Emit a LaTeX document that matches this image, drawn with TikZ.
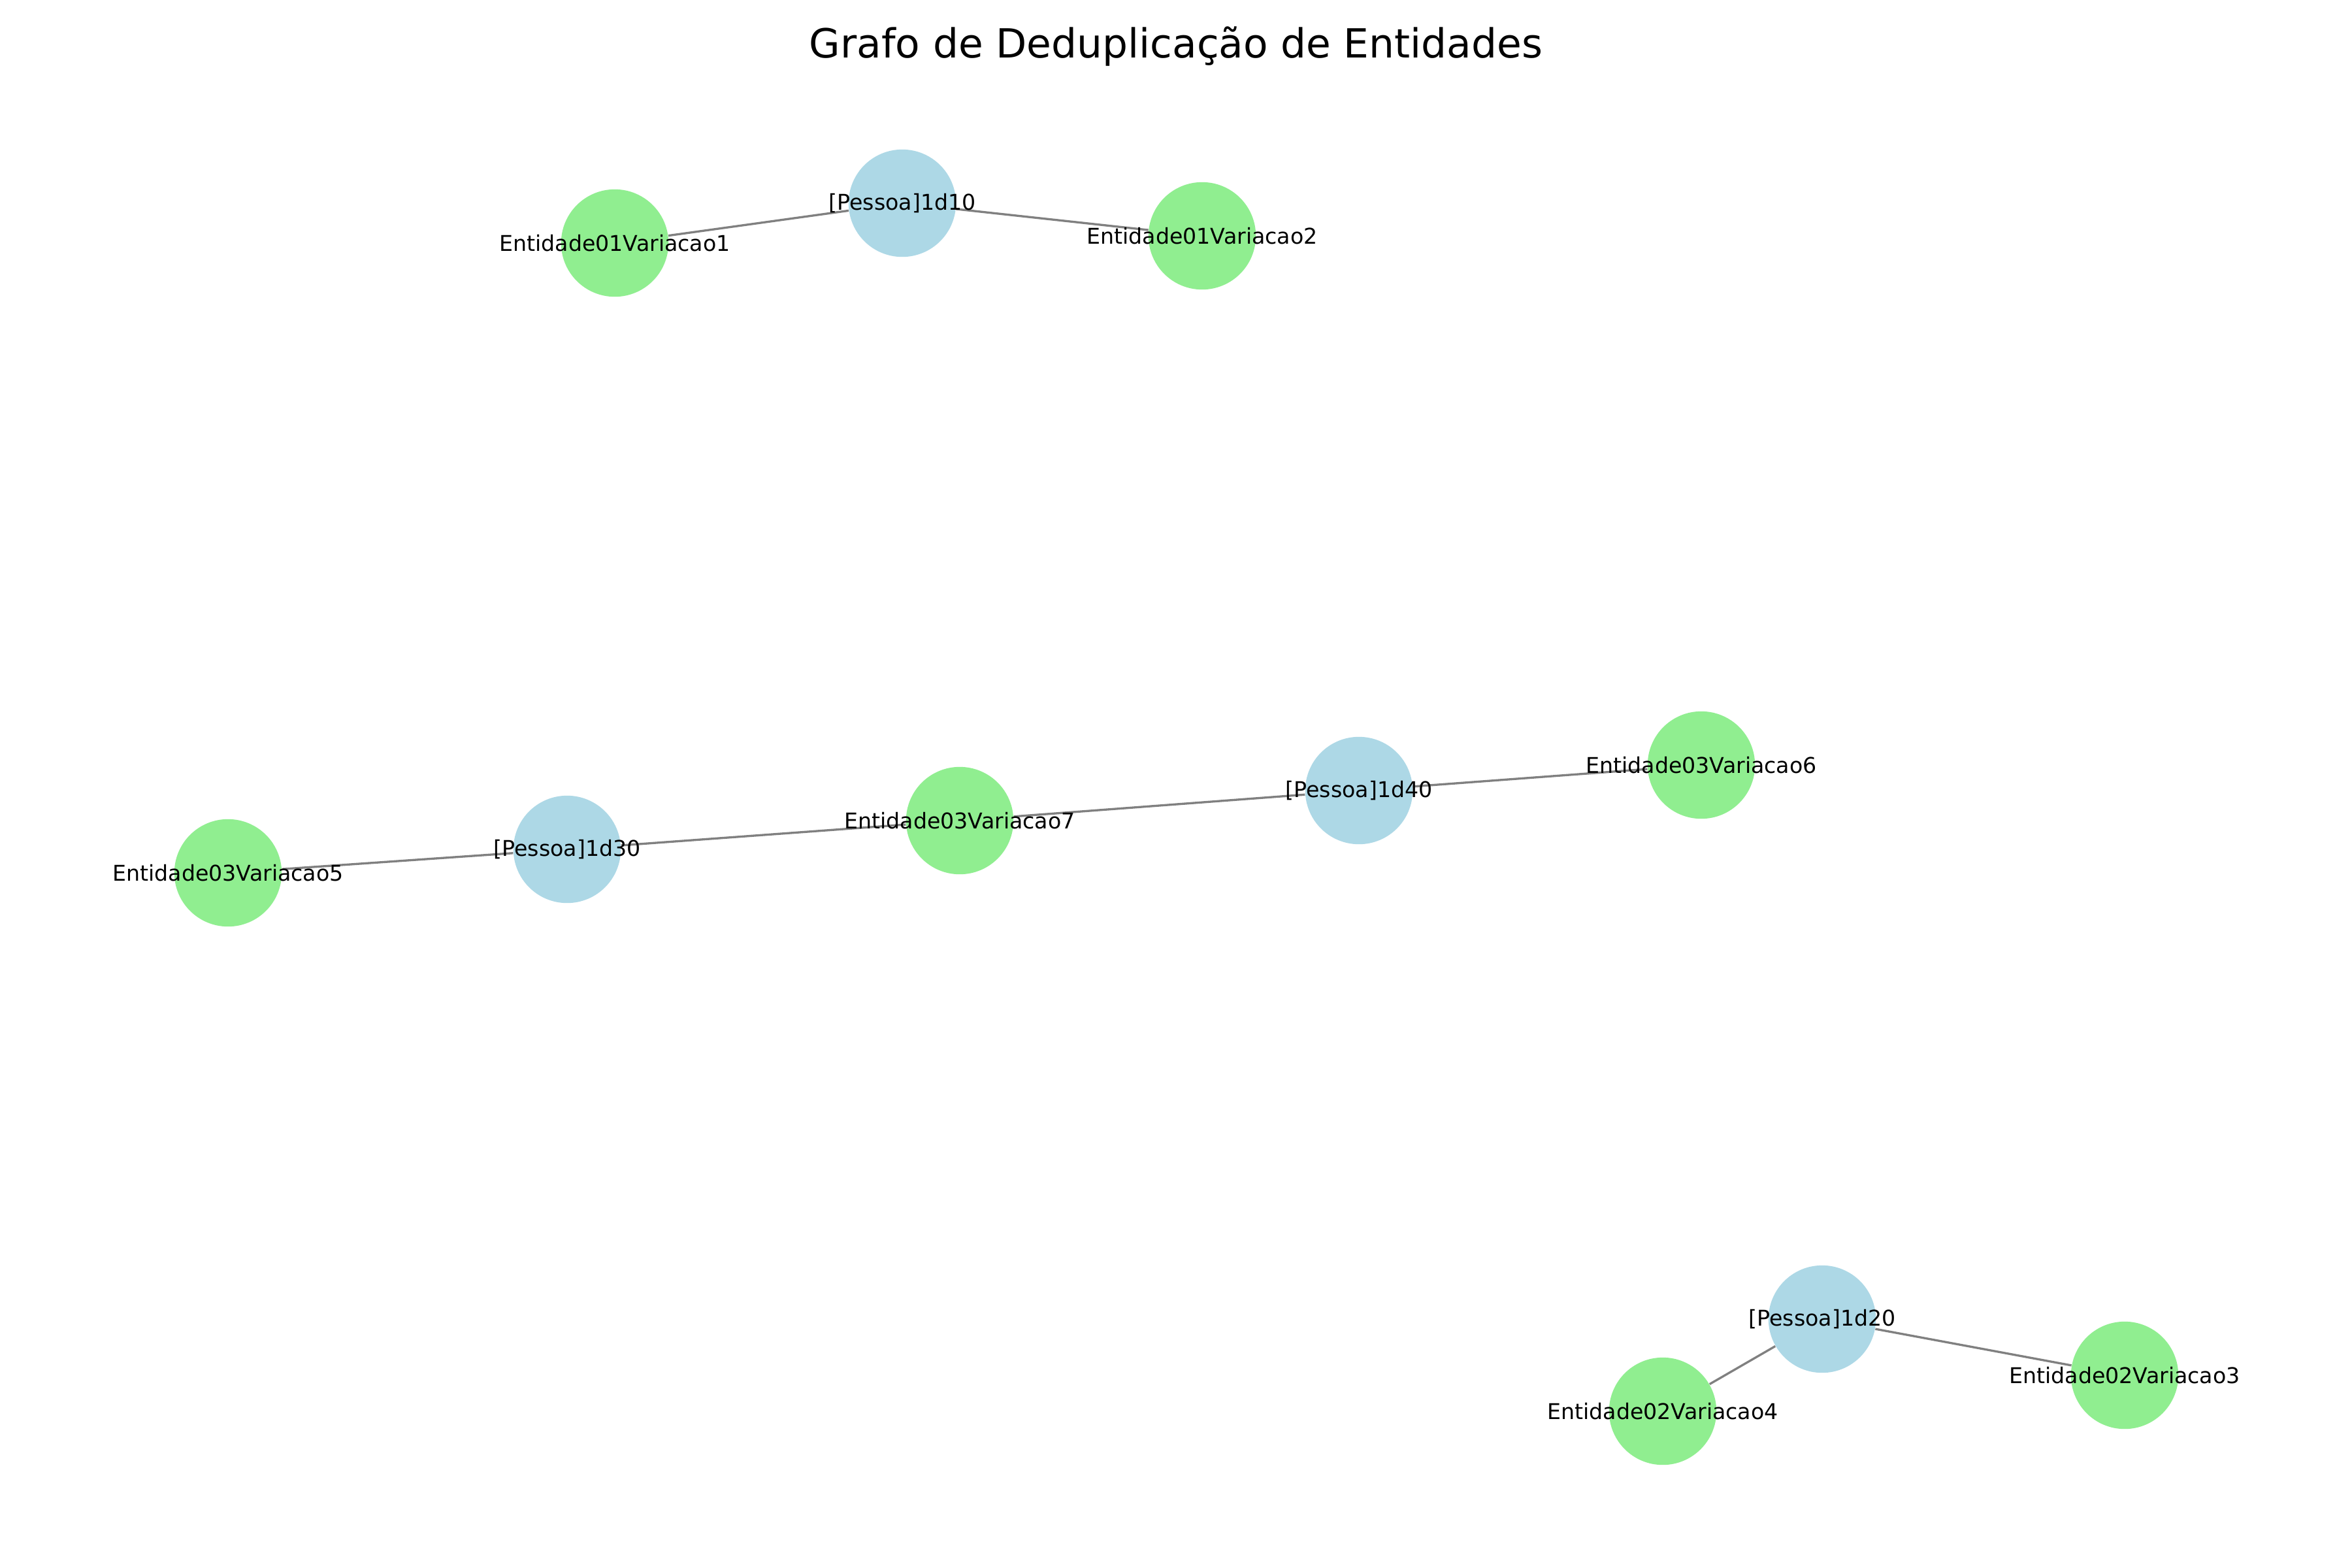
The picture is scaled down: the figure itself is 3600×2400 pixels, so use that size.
\documentclass[tikz,border=0pt]{standalone}
\usepackage{fontspec}
\setmainfont{DejaVu Sans}
\usetikzlibrary{backgrounds}
\definecolor{lightblue}{RGB}{173,216,230}
\definecolor{lightgreen}{RGB}{144,238,144}
\begin{document}
\begin{tikzpicture}[x=0.301125pt, y=-0.301125pt,
  pessoa/.style={circle, fill=lightblue, minimum size=49.5pt, inner sep=0pt},
  entidade/.style={pessoa, fill=lightgreen},
  every label/.style={font=\fontsize{10}{12}\selectfont, inner sep=0pt},
  ligacao/.style={draw=black!50, line width=1pt}]
  \useasboundingbox (0,0) rectangle (3600,2400);

  % Title
  \node[font=\fontsize{18.5}{22}\selectfont] (titulo) at (1800,71) {Grafo de Deduplicação de Entidades};

  % Person nodes
  \node[pessoa, label={center:{[Pessoa]1d10}}] (p10) at (1381,311) {};
  \node[pessoa, label={center:{[Pessoa]1d20}}] (p20) at (2789,2019) {};
  \node[pessoa, label={center:{[Pessoa]1d30}}] (p30) at (868,1300) {};
  \node[pessoa, label={center:{[Pessoa]1d40}}] (p40) at (2080,1210) {};

  % Entity variations
  \node[entidade, label={center:Entidade01Variacao1}] (e1) at (941,372) {};
  \node[entidade, label={center:Entidade01Variacao2}] (e2) at (1840,361) {};
  \node[entidade, label={center:Entidade02Variacao3}] (e3) at (3252,2105) {};
  \node[entidade, label={center:Entidade02Variacao4}] (e4) at (2545,2160) {};
  \node[entidade, label={center:Entidade03Variacao5}] (e5) at (349,1336) {};
  \node[entidade, label={center:Entidade03Variacao6}] (e6) at (2604,1171) {};
  \node[entidade, label={center:Entidade03Variacao7}] (e7) at (1469,1256) {};

  % Edges behind the nodes
  \begin{scope}[on background layer]
    \fill[white] (0,0) rectangle (3600,2400);
    \draw[ligacao] (p10) -- (e1);
    \draw[ligacao] (p10) -- (e2);
    \draw[ligacao] (p20) -- (e3);
    \draw[ligacao] (p20) -- (e4);
    \draw[ligacao] (e5) -- (p30);
    \draw[ligacao] (p30) -- (e7);
    \draw[ligacao] (e7) -- (p40);
    \draw[ligacao] (p40) -- (e6);
  \end{scope}
\end{tikzpicture}
\end{document}
